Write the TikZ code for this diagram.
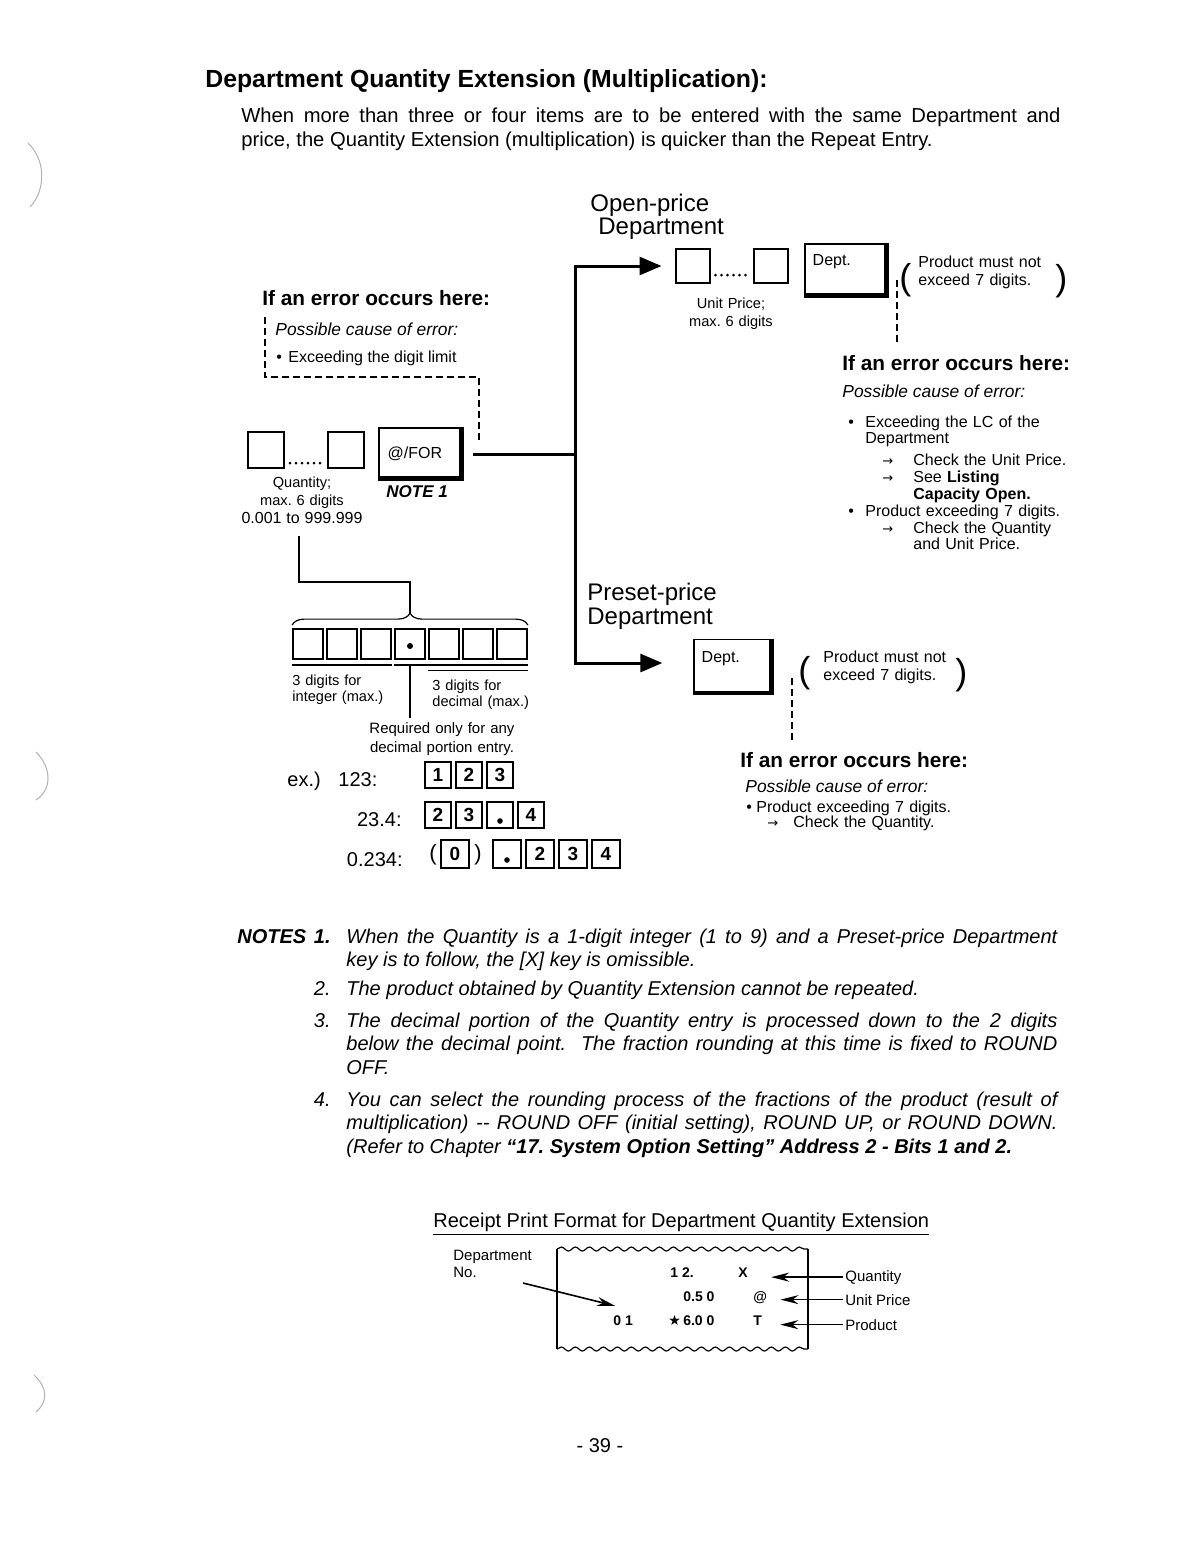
\documentclass[tikz,border=0pt]{standalone}
\usepackage{fontspec}
\setmainfont{Liberation Sans}
\newfontfamily\glyphfont{DejaVu Sans}
\usetikzlibrary{arrows.meta,calc,decorations.pathreplacing,decorations.pathmorphing}

\newcommand\sz[2]{\fontsize{#1}{#2}\selectfont}
\newcommand\arrto[1]{\makebox[#1][l]{\glyphfont\sz{6.5}{6.5}→}}
\newcommand\bul[1]{\makebox[#1][l]{\textbullet}}

\tikzset{
  txt/.style={inner sep=0pt, anchor=base west},
  headtext/.style={txt, font=\sz{12.4}{14}\bfseries},
  bodytext/.style={txt, font=\sz{10.1}{12}},
  deptlbl/.style={txt, font=\sz{12}{11.7}},
  errhead/.style={txt, font=\sz{10.4}{12}\bfseries},
  errcause/.style={txt, font=\sz{8.7}{10}\itshape},
  errlist/.style={txt, font=\sz{8}{8.4}},
  smalltext/.style={txt, font=\sz{7.3}{9}},
  exlabel/.style={txt, font=\sz{10}{12}},
  notetext/.style={txt, font=\sz{10}{11.8}\itshape, text width=355.5pt, align=justify},
  notenum/.style={txt, anchor=base east, font=\sz{10}{11.8}\itshape},
  paren/.style={txt, font=\sz{18}{18}},
  keylabel/.style={inner sep=0pt, font=\sz{8}{8}},
  blankbox/.style={draw, line width=1pt, minimum size=17pt, inner sep=0pt},
  cellbox/.style={draw, line width=0.9pt, minimum size=15pt, inner sep=0pt},
  digitbox/.style={draw, line width=1.3pt, minimum size=13pt, inner sep=0pt, font=\sz{9.5}{9.5}\bfseries},
  dotbox/.style={digitbox, path picture={\fill ([yshift=-3pt]path picture bounding box.center) circle (1.4pt);}},
  keycap/.style={draw, line width=0.7pt, inner sep=0pt,
    path picture={\draw[line width=4pt] (path picture bounding box.north east)
      -- (path picture bounding box.south east) -- (path picture bounding box.south west);}},
  flow/.style={line width=1.5pt},
  flowarrow/.style={flow, -{Triangle[length=11pt,width=9pt]}},
  errdash/.style={line width=0.9pt, dash pattern=on 3.5pt off 2pt},
  dotrow/.style={line width=1.5pt, line cap=round, dash pattern=on 0pt off 3pt},
  thinline/.style={line width=0.6pt},
  wavy/.style={line width=0.6pt, decorate, decoration={snake, segment length=7pt, amplitude=1pt}},
  rcpt/.style={txt, font=\sz{7}{7}\bfseries},
  rlabel/.style={txt, font=\sz{7.5}{8.5}},
  tagarrow/.style={line width=0.8pt, -{Stealth[length=9pt,width=4.5pt]}}
}

\begin{document}
\frenchspacing
\begin{tikzpicture}[x=0.5pt,y=-0.5pt]
\fill[white] (0,0) rectangle (1202,1560);
\useasboundingbox (0,0) rectangle (1202,1560);

% heading
\node[headtext] (title) at (205,87) {Department Quantity Extension (Multiplication):};
\node[bodytext, text width=409.5pt, align=justify] (intro) at (241,122)
  {When more than three or four items are to be entered with the same Department and\linebreak
   price, the Quantity Extension (multiplication) is quicker than the Repeat Entry.};

% quantity entry
\node[errhead] (errChead) at (262,305) {If an error occurs here:};
\coordinate (errCtop) at (265,317);
\coordinate (errCend) at (479,442);
\draw[errdash] (errCtop) -- ++(0,60) -| (errCend);
\node[errcause] (causeChead) at (275,335) {Possible cause of error:};
\node[errlist] (causeC) at (276,362) {\bul{6pt}Exceeding the digit limit};

\node[blankbox, minimum size=18pt] (qtyA) at (266,450) {};
\node[blankbox, minimum size=18pt] (qtyB) at (346,450) {};
\draw[dotrow] ([shift={(2.5pt,-6.5pt)}]qtyA.east) -- ([shift={(-2.5pt,-6.5pt)}]qtyB.west);
\node[keycap, minimum width=42pt, minimum height=26pt,
      label={[keylabel, anchor=west, xshift=4.5pt]west:@/FOR}] (forkey) at (421,454) {};
\node[txt, font=\sz{8.5}{10}\bfseries\itshape] (note1tag) at (386,497) {NOTE 1};
\node[smalltext, anchor=base, text width=70pt, align=center] (qtylbl) at (302,487)
  {Quantity;\\max. 6 digits\\{\sz{8}{9}0.001 to 999.999}};

% open-price department
\node[deptlbl, text width=80pt, align=left] (openlbl) at (590,211) {Open-price\\\hspace*{4pt}Department};
\node[blankbox] (upA) at (692.5,266) {};
\node[blankbox] (upB) at (770.5,266) {};
\draw[dotrow] ([shift={(2.5pt,-4.5pt)}]upA.east) -- ([shift={(-2.5pt,-4.5pt)}]upB.west);
\node[smalltext, anchor=base, text width=60pt, align=center] (uplbl) at (731,308) {Unit Price;\\max. 6 digits};
\node[keycap, minimum width=41.5pt, minimum height=26.5pt,
      label={[keylabel, anchor=north west, xshift=4pt, yshift=-5.5pt]north west:Dept.}] (deptA) at (846.5,270.5) {};
\node[paren] (lparA) at (899,289) {(};
\node[txt, font=\sz{8}{9.4}, text width=66pt, align=left] (limitA) at (918,267) {Product must not\\exceed 7 digits.};
\node[paren] (rparA) at (1055,290) {)};
\coordinate (errAtop) at (897,280);
\node[errhead] (errAhead) at (842,370) {If an error occurs here:};
\draw[errdash] (errAtop) -- ([yshift=5pt]errAtop |- errAhead.north);
\node[errcause] (causeAhead) at (842,397) {Possible cause of error:};
\node[errlist, text width=120pt, align=left] (causeA) at (848,427)
  {\bul{8.5pt}Exceeding the LC of the\\
   \hspace*{8.5pt}Department\\[2.6pt]
   \hspace*{17pt}\arrto{15.5pt}Check the Unit Price.\\
   \hspace*{17pt}\arrto{15.5pt}See \textbf{Listing}\\
   \hspace*{32.5pt}\textbf{Capacity Open.}\\
   \bul{8.5pt}Product exceeding 7 digits.\\
   \hspace*{17pt}\arrto{15.5pt}Check the Quantity\\
   \hspace*{32.5pt}and Unit Price.};

% preset-price department
\node[deptlbl, text width=80pt, align=left, font=\sz{12}{12}] (presetlbl) at (587,600) {Preset-price\\Department};
\node[keycap, minimum width=39.5pt, minimum height=27.5pt,
      label={[keylabel, anchor=north west, xshift=4pt, yshift=-6pt]north west:Dept.}] (deptB) at (733.5,667) {};
\node[paren] (lparB) at (798,682) {(};
\node[txt, font=\sz{8}{9.4}, text width=66pt, align=left] (limitB) at (823,662) {Product must not\\exceed 7 digits.};
\node[paren] (rparB) at (955,684) {)};
\coordinate (errBtop) at (792,678);
\node[errhead] (errBhead) at (740,767) {If an error occurs here:};
\draw[errdash] (errBtop) -- ([yshift=5pt]errBtop |- errBhead.north);
\node[errcause] (causeBhead) at (745,792) {Possible cause of error:};
\node[errlist, font=\sz{8}{7.6}, text width=110pt, align=left] (causeB) at (746,812)
  {\bul{5pt}Product exceeding 7 digits.\\\hspace*{10.5pt}\arrto{13pt}Check the Quantity.};

% main flow
\coordinate (fork) at (575,454);
\coordinate (spinetop) at (575,266);
\coordinate (spinebot) at (575,663);
\draw[flow] ([xshift=4.5pt]forkey.east) -- (fork);
\draw[flowarrow, shorten >=6.5pt] (fork) -- (spinetop) -- (upA.west);
\draw[flowarrow, shorten >=15.5pt] (fork) -- (spinebot) -- (spinebot -| deptB.west);

% quantity digits
\foreach \i in {1,...,7} \node[cellbox] (cell\i) at ({274+34*\i},644) {};
\fill ([yshift=-1pt]cell4.center) circle (1.5pt);
\coordinate (qdrop) at (299,536);
\coordinate (bracetip) at ([yshift=7.5pt]cell4.north);
\draw[thinline] (qdrop) -- ++(0,46) -| (bracetip);
\draw[thinline, decorate, decoration={brace, amplitude=6pt}]
  ([yshift=1.5pt]cell1.north west) -- ([yshift=1.5pt]cell7.north east);
\draw[thinline] ([yshift=-2.5pt]cell1.south west) -- ([yshift=-2.5pt]cell3.south east);
\draw[thinline] ([yshift=-2.5pt]cell4.south west) -- ([yshift=-2.5pt]cell7.south east);
\draw[line width=0.4pt] ([yshift=-5pt]cell5.south west) -- ([yshift=-5pt]cell7.south east);
\node[smalltext, text width=60pt, align=left, font=\sz{7.3}{8}] (intlbl) at (292,685) {3 digits for\\integer (max.)};
\node[smalltext, text width=60pt, align=left, font=\sz{7.3}{8}] (declbl) at (432,690) {3 digits for\\decimal (max.)};
\node[smalltext, anchor=base, text width=90pt, align=center, font=\sz{7.5}{9.5}] (reqlbl) at (442,733)
  {Required only for any\\decimal portion entry.};
\draw[thinline] ([yshift=-2.5pt]cell4.south) -- ([yshift=2pt]cell4.south |- reqlbl.north);

% examples
\node[exlabel] (exword) at (287,786) {ex.)};
\node[exlabel] (ex1lbl) at (338,786) {123:};
\node[exlabel, anchor=base east] (ex2lbl) at (402,826) {23.4:};
\node[exlabel, anchor=base east] (ex3lbl) at (403,866) {0.234:};
\foreach \d [count=\i] in {1,2,3} \node[digitbox] (ra\i) at ({407+31*\i},775) {\d};
\node[digitbox] (rb1) at (438,815) {2};
\node[digitbox] (rb2) at (469,815) {3};
\node[dotbox] (rb3) at (500,815) {};
\node[digitbox] (rb4) at (531,815) {4};
\node[exlabel, font=\sz{11}{12}] (rcopen) at (429,860) {(};
\node[digitbox, minimum size=14pt] (rc0) at (455,854) {0};
\node[exlabel, font=\sz{11}{12}] (rcclose) at (474,860) {)};
\node[dotbox, minimum size=14pt] (rc1) at (507,854) {};
\node[digitbox, minimum size=14pt] (rc2) at (540,854) {2};
\node[digitbox, minimum size=14pt] (rc3) at (573,854) {3};
\node[digitbox, minimum size=14pt] (rc4) at (606,854) {4};

% notes
\node[txt, font=\sz{10}{11.8}\bfseries\itshape] (notestag) at (237,943) {NOTES};
\node[notenum, font=\sz{10}{11.8}\bfseries\itshape] (num1) at (331,943) {1.};
\node[notetext] (note1) at (346,943) {When the Quantity is a 1-digit integer (1 to 9) and a Preset-price Department\linebreak
  key is to follow, the [X] key is omissible.};
\node[notenum] (num2) at (331,995) {2.};
\node[notetext] (note2) at (346,995) {The product obtained by Quantity Extension cannot be repeated.};
\node[notenum] (num3) at (331,1027) {3.};
\node[notetext] (note3) at (346,1027) {The decimal portion of the Quantity entry is processed down to the 2 digits\linebreak
  below the decimal point.\ \ The fraction rounding at this time is fixed to ROUND\linebreak OFF.};
\node[notenum] (num4) at (331,1106) {4.};
\node[notetext] (note4) at (346,1106) {You can select the rounding process of the fractions of the product (result of\linebreak
  multiplication) -{}- ROUND OFF (initial setting), ROUND UP, or ROUND DOWN.\linebreak
  (Refer to Chapter \textbf{“17. System Option Setting” Address 2 - Bits 1 and 2.}};

% receipt
\node[txt, font=\sz{10}{12}] (rcptitle) at (433,1227) {\underline{Receipt Print Format for Department Quantity Extension}};
\coordinate (pTL) at (557,1249);
\coordinate (pTR) at (808,1249);
\coordinate (pBL) at (557,1349);
\coordinate (pBR) at (808,1349);
\draw[line width=0.9pt] (pTL) -- (pBL);
\draw[line width=0.7pt] (pTR) -- (pBR);
\draw[wavy] (pTL) -- (pTR);
\draw[wavy] (pBL) -- (pBR);
\node[rcpt] (qtyval) at (670,1277) {1 2.};
\node[rcpt] (qtysym) at (738,1277) {X};
\node[rcpt] (upval) at (683,1301) {0.5 0};
\node[rcpt] (upsym) at (753,1301) {@};
\node[rcpt] (deptno) at (613,1325) {0 1};
\node[rcpt] (prodval) at (668,1325) {{\glyphfont ★}\,6.0 0};
\node[rcpt] (prodsym) at (753,1325) {T};
\node[rlabel] (qtytag) at (845,1281) {Quantity};
\node[rlabel] (uptag) at (845,1305) {Unit Price};
\node[rlabel] (prodtag) at (845,1330) {Product};
\draw[tagarrow] ([xshift=-1pt]qtytag.west) -- ([xshift=11.5pt]qtysym.east |- qtytag.west);
\draw[tagarrow] ([xshift=-1pt]uptag.west) -- ([xshift=6.5pt]upsym.east |- uptag.west);
\draw[tagarrow] ([xshift=-1pt]prodtag.west) -- ([xshift=9pt]prodsym.east |- prodtag.west);
\node[rlabel, text width=50pt, align=left] (deptnolbl) at (453,1260) {Department\\No.};
\coordinate (nostart) at (523,1283);
\draw[tagarrow] (nostart) -- ([shift={(1pt,4.5pt)}]deptno.north west);

% page number
\node[txt, anchor=base, font=\sz{10}{12}] (pageno) at (600,1452) {- 39 -};

% binder hole shadows
\draw[gray!60, line width=0.5pt] (28,143) .. controls (46,160) and (46,190) .. (30,207);
\draw[gray!60, line width=0.5pt] (36,752) .. controls (52,768) and (52,790) .. (36,800);
\draw[gray!60, line width=0.5pt] (34,1375) .. controls (48,1388) and (48,1402) .. (36,1412);
\end{tikzpicture}
\end{document}
